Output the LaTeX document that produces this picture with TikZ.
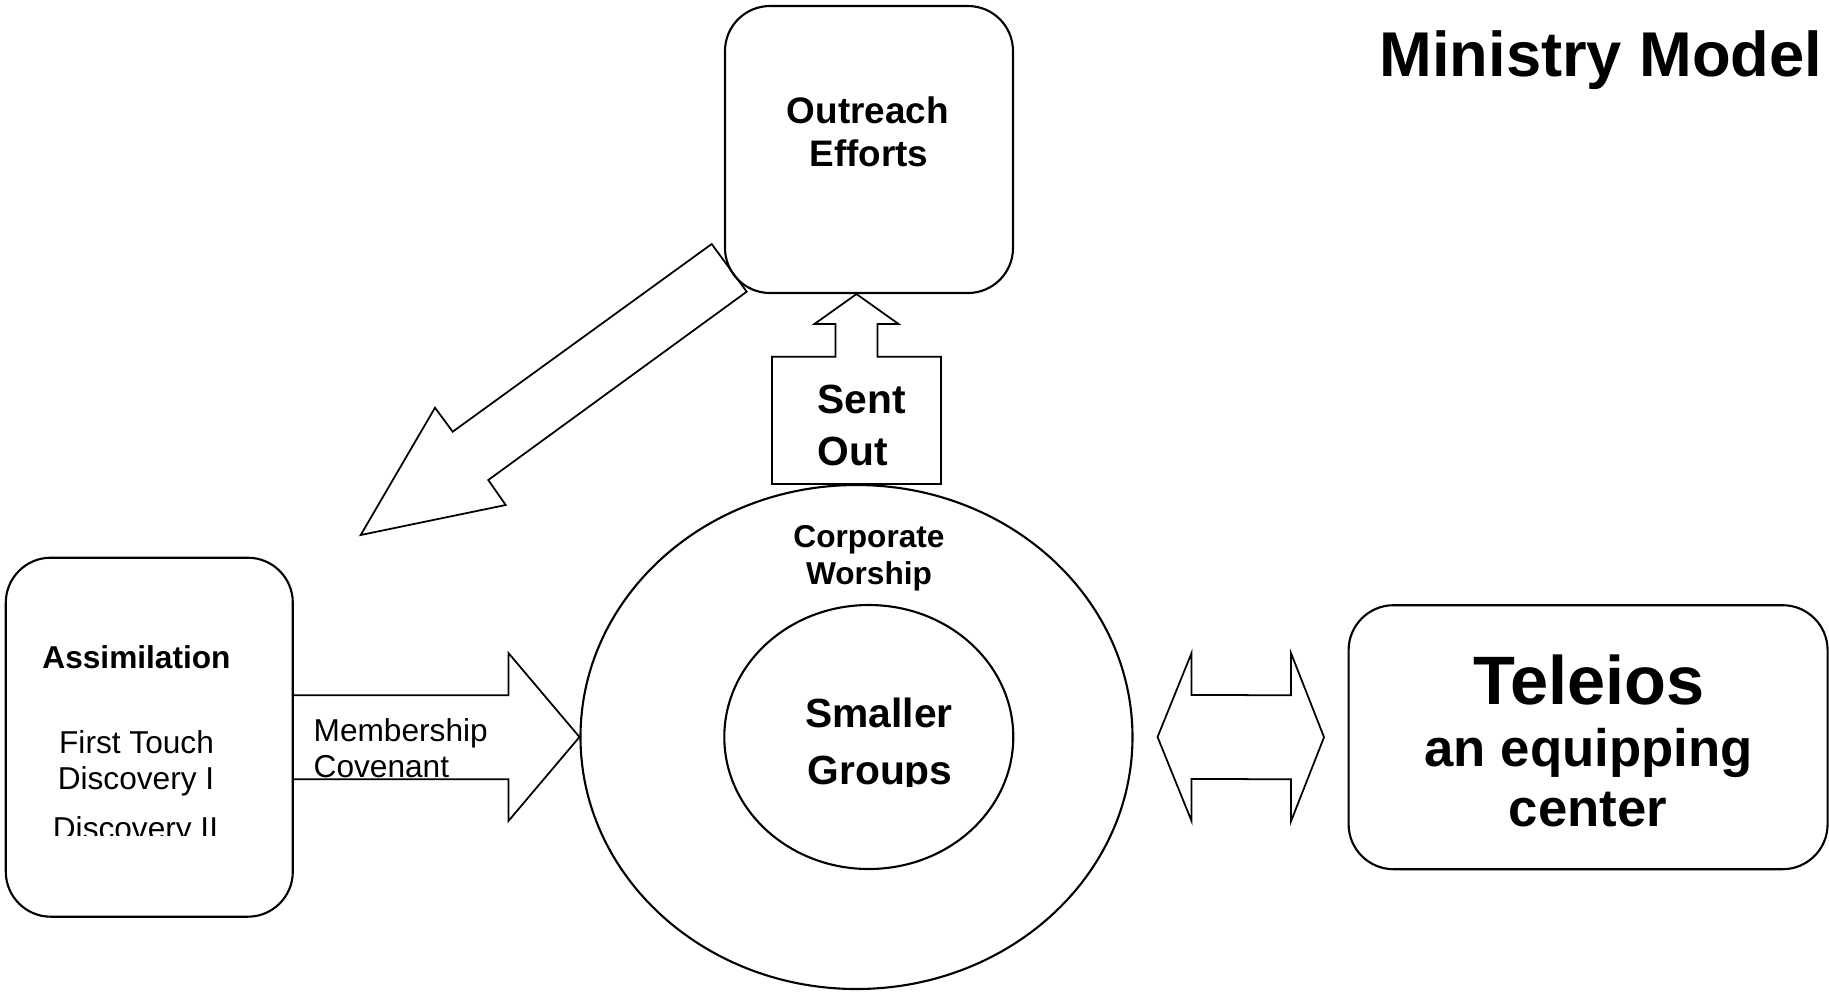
\documentclass[tikz,border=0pt]{standalone}
\usepackage{fontspec}
\setmainfont{Liberation Sans}
\usetikzlibrary{shapes.geometric, calc}

\begin{document}
\begin{tikzpicture}[
		box/.style={draw, line width=0.6pt, rounded corners=0.45cm, inner sep=0pt},
		ring/.style={draw, ellipse, line width=0.6pt, inner sep=0pt},
		blockarrow/.style={draw, line width=0.5pt, line join=miter},
		txt/.style={inner sep=0pt, anchor=base},
		fnorm/.style={font=\fontsize{9}{11}\selectfont},
		fbold/.style={font=\fontsize{9}{11}\selectfont\bfseries},
		fmid/.style={font=\fontsize{10.5}{12.6}\selectfont\bfseries},
		fbig/.style={font=\fontsize{11.6}{14}\selectfont\bfseries},
		fhuge/.style={font=\fontsize{15}{18}\selectfont\bfseries}
	]
		\useasboundingbox (0,0) rectangle (18.29,-9.92);
		
		% boxes and rings
		\node[box, minimum width=2.88cm, minimum height=2.87cm] (outreach) at (8.69,-1.495) {};
		\node[box, minimum width=2.87cm, minimum height=3.59cm] (assim) at (1.493,-7.372) {};
		\node[box, minimum width=4.79cm, minimum height=2.64cm] (teleios) at (15.881,-7.372) {};
		\node[ring, minimum width=5.52cm, minimum height=5.04cm] (worship) at (8.565,-7.37) {};
		\node[ring, minimum width=2.89cm, minimum height=2.64cm] (groups) at (8.688,-7.37) {};
		
		% block arrows
		\draw[blockarrow] (7.117,-2.44) -- (7.467,-2.917) -- (4.883,-4.80) -- (5.057,-5.05) -- (3.607,-5.35) -- (4.35,-4.077) -- (4.527,-4.317) -- cycle;
		
		\begin{scope}[shift={(worship.north)}]
		\draw[blockarrow] (-0.845,0) -- (-0.845,1.273) -- (-0.21,1.273) -- (-0.21,1.6) -- (-0.42,1.6) -- (worship.north |- outreach.south) -- (0.42,1.6) -- (0.21,1.6) -- (0.21,1.273) -- (0.845,1.273) -- (0.845,0) -- cycle;
		\end{scope}
		
		\draw[blockarrow] ($(assim.east)+(0,0.42)$) -| ($(worship.west)+(-0.71,0.84)$) -- (worship.west) -- ($(worship.west)+(-0.71,-0.84)$) |- ($(assim.east)+(0,-0.42)$);
		
		\coordinate (dl) at ($(worship.east)+(0.24,0)$);
		\coordinate (dr) at ($(teleios.west)+(-0.235,0)$);
		\draw[blockarrow] (dl) -- ($(dl)+(0.34,0.84)$) -- ($(dl)+(0.34,0.42)$) -- ($(dr)+(-0.33,0.42)$) -- ($(dr)+(-0.33,0.84)$) -- (dr) -- ($(dr)+(-0.33,-0.84)$) -- ($(dr)+(-0.33,-0.42)$) -- ($(dl)+(0.34,-0.42)$) -- ($(dl)+(0.34,-0.84)$) -- cycle;
		
		% texts
		\node[txt, font=\fontsize{18}{21}\selectfont\bfseries] (title) at (16.01,-0.76) {Ministry Model};
		
		\node[txt, fmid] (out1) at (8.68,-1.233) {Outreach};
		\node[txt, fmid] (out2) at (8.69,-1.667) {Efforts};
		
		\node[txt, fbig, anchor=base west] (sent1) at (8.17,-4.133) {Sent};
		\node[txt, fbig, anchor=base west] (sent2) at (8.17,-4.65) {Out};
		
		\node[txt, fbold] (wor1) at (8.69,-5.47) {Corporate};
		\node[txt, fbold] (wor2) at (8.69,-5.84) {Worship};
		
		\node[txt, fbig] (grp1) at (8.79,-7.277) {Smaller};
		\begin{scope}
		\clip (7.5,-7.3) rectangle (10,-7.86);
		\node[txt, fbig] (grp2) at (8.80,-7.84) {Groups};
		\end{scope}
		
		\node[txt, fbold] (as1) at (1.365,-6.683) {Assimilation};
		\node[txt, fnorm] (as2) at (1.365,-7.533) {First Touch};
		\node[txt, fnorm] (as3) at (1.36,-7.893) {Discovery I};
		\begin{scope}
		\clip (0.2,-7.95) rectangle (2.8,-8.35);
		\node[txt, fnorm] (as4) at (1.355,-8.39) {Discovery II};
		\end{scope}
		
		\node[txt, fnorm, anchor=base west] (mem1) at (3.13,-7.41) {Membership};
		\node[txt, fnorm, anchor=base west] (mem2) at (3.13,-7.773) {Covenant};
		
		\node[txt, font=\fontsize{19.5}{23}\selectfont\bfseries] (tel1) at (15.89,-7.043) {Teleios};
		\node[txt, fhuge] (tel2) at (15.886,-7.667) {an equipping};
		\node[txt, fhuge] (tel3) at (15.88,-8.267) {center};
		
		\end{tikzpicture}
\end{document}
